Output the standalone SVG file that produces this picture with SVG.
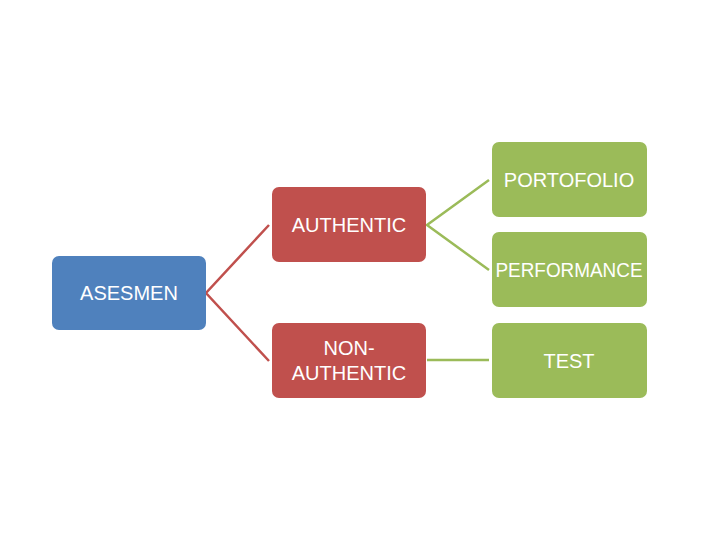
<svg xmlns="http://www.w3.org/2000/svg" width="720" height="540" viewBox="0 0 720 540">
<style>
.lbl{font-family:"Liberation Sans","DejaVu Sans",sans-serif;font-size:20px;fill:#ffffff;text-anchor:middle}
.red{stroke:#C0504D;stroke-width:2.5;fill:none}
.grn{stroke:#9BBB59;stroke-width:2.5;fill:none}
</style>
<rect width="720" height="540" fill="#ffffff"/>
<g id="connectors">
<polyline class="red" points="269,225 206,293 269,361"/>
<polyline class="grn" points="489,180 427,225 489,270"/>
<line class="grn" x1="427" y1="360" x2="489" y2="360"/>
</g>
<g id="asesmen">
<rect x="52" y="256" width="154" height="74" rx="7" fill="#4F81BD"/>
<text class="lbl" x="129" y="300">ASESMEN</text>
</g>
<g id="authentic">
<rect x="272" y="187" width="154" height="75" rx="7" fill="#C0504D"/>
<text class="lbl" x="349" y="232">AUTHENTIC</text>
</g>
<g id="non-authentic">
<rect x="272" y="323" width="154" height="75" rx="7" fill="#C0504D"/>
<text class="lbl" x="349" y="355">NON-</text>
<text class="lbl" x="349" y="380">AUTHENTIC</text>
</g>
<g id="portofolio">
<rect x="492" y="142" width="155" height="75" rx="7" fill="#9BBB59"/>
<text class="lbl" x="569" y="187">PORTOFOLIO</text>
</g>
<g id="performance">
<rect x="492" y="232" width="155" height="75" rx="7" fill="#9BBB59"/>
<text class="lbl" x="569" y="277" textLength="147" lengthAdjust="spacingAndGlyphs">PERFORMANCE</text>
</g>
<g id="test">
<rect x="492" y="323" width="155" height="75" rx="7" fill="#9BBB59"/>
<text class="lbl" x="569" y="368">TEST</text>
</g>
</svg>
